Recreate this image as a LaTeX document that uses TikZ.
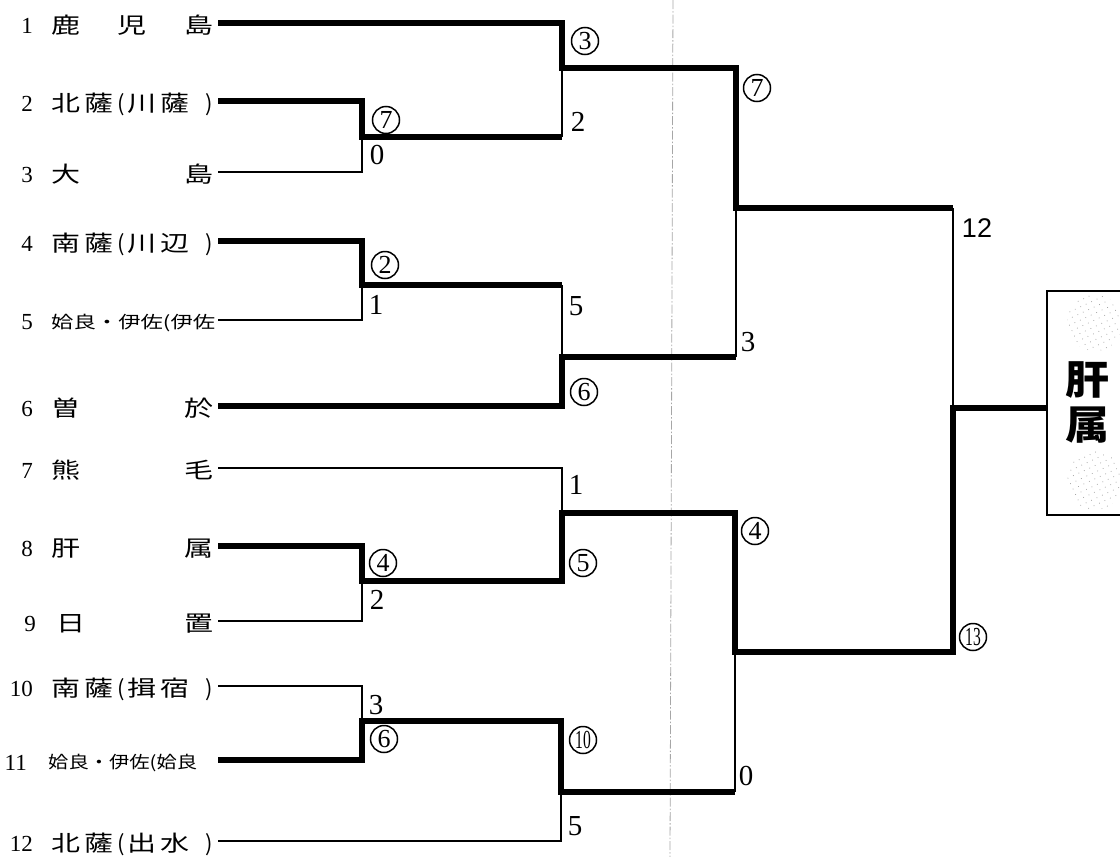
\documentclass[tikz,border=0pt]{standalone}
\usepackage{fontspec}
\usepackage{graphicx}
\setmainfont{Liberation Serif}
\newfontfamily\jp{Noto Sans CJK JP}
\newfontfamily\hv{Liberation Sans}
\newcommand\wc[1]{\scalebox{1.32}[1]{#1}}
\newcommand\pname[4]{\makebox[162pt]{\wc{#1}\hspace{4pt}\wc{#2}\hspace{4pt}(\hspace{3pt}\wc{#3}\hspace{4pt}\wc{#4}\hfill)}}
\usetikzlibrary{patterns.meta}
\tikzset{
  lose/.style={line width=2pt},
  win/.style={line width=6pt, line join=miter},
  teamnum/.style={inner sep=0pt, anchor=base east, font=\fontsize{23}{23}\selectfont},
  teamname/.style={inner sep=0pt, anchor=base west, font=\jp\fontsize{22}{22}\selectfont},
  smallname/.style={inner sep=0pt, anchor=base west, font=\jp\fontsize{17}{17}\selectfont},
  score/.style={inner sep=0pt, font=\fontsize{29}{29}\selectfont},
  circ/.style={circle, draw, line width=1.5pt, inner sep=0pt, minimum size=27pt, font=\fontsize{26}{26}\selectfont},
  guide/.style={draw=gray!70, line width=0.8pt, dash pattern=on 9pt off 2pt on 1.5pt off 2pt},
  boxtxt/.style={inner sep=0pt, font=\jp\bfseries\fontsize{40}{40}\selectfont},
}
\begin{document}
\begin{tikzpicture}[x=1pt,y=-1pt]
\useasboundingbox (0,0) rectangle (1120,857);

% guide line
\coordinate (gtop) at (673,0);
\coordinate (gbot) at (670,857);
\draw[guide] (gtop) -- (gbot);

% team labels
\node[teamnum] (n1) at (33,33) {1};
\node[teamname] (t1) at (51,33) {\makebox[162pt]{\wc{鹿}\hfill\wc{児}\hfill\wc{島}}};
\node[teamnum] (n2) at (33,111) {2};
\node[teamname] (t2) at (51,111) {\pname{北}{薩}{川}{薩}};
\node[teamnum] (n3) at (33,182) {3};
\node[teamname] (t3) at (51,182) {\makebox[162pt]{\wc{大}\hfill\wc{島}}};
\node[teamnum] (n4) at (33,251) {4};
\node[teamname] (t4) at (51,251) {\pname{南}{薩}{川}{辺}};
\node[teamnum] (n5) at (33,329) {5};
\node[smallname] (t5) at (51,328) {\resizebox{164pt}{\height}{姶良・伊佐(伊佐}};
\node[teamnum] (n6) at (33,416) {6};
\node[teamname] (t6) at (51,416) {\makebox[162pt]{\wc{曽}\hfill\wc{於}}};
\node[teamnum] (n7) at (33,478) {7};
\node[teamname] (t7) at (51,478) {\makebox[162pt]{\wc{熊}\hfill\wc{毛}}};
\node[teamnum] (n8) at (33,556) {8};
\node[teamname] (t8) at (51,556) {\makebox[162pt]{\wc{肝}\hfill\wc{属}}};
\node[teamnum] (n9) at (36,631) {9};
\node[teamname] (t9) at (51,631) {\makebox[162pt]{\hspace{5pt}\wc{日}\hfill\wc{置}}};
\node[teamnum] (n10) at (33,696) {10};
\node[teamname] (t10) at (51,696) {\pname{南}{薩}{揖}{宿}};
\node[teamnum] (n11) at (27,770) {11};
\node[smallname] (t11) at (48,768) {\resizebox{149pt}{\height}{姶良・伊佐(姶良}};
\node[teamnum] (n12) at (33,851) {12};
\node[teamname] (t12) at (51,851) {\pname{北}{薩}{出}{水}};

% line starts
\coordinate (l1) at (218,23);
\coordinate (l2) at (218,101);
\coordinate (l3) at (218,172);
\coordinate (l4) at (218,241);
\coordinate (l5) at (218,320);
\coordinate (l6) at (218,406);
\coordinate (l7) at (218,468);
\coordinate (l8) at (218,546);
\coordinate (l9) at (218,621);
\coordinate (l10) at (218,686);
\coordinate (l11) at (218,760);
\coordinate (l12) at (218,841);

% junctions
\coordinate (a) at (362,137);
\coordinate (b) at (362,285);
\coordinate (c) at (362,581);
\coordinate (d) at (362,721);
\coordinate (e) at (562,68);
\coordinate (f) at (562,357);
\coordinate (g) at (562,513);
\coordinate (h) at (561,792);
\coordinate (i) at (736,208);
\coordinate (j) at (735,652);
\coordinate (w) at (953,408);

% champion box
\node[draw, line width=2pt, minimum width=110pt, minimum height=224pt, anchor=north west, inner sep=0pt] (champ) at (1046,290) {};
\fill[pattern={Dots[distance=6pt,radius=0.55pt,angle=25]}, pattern color=gray!70] (1095,323) ellipse [x radius=28pt, y radius=28pt];
\fill[pattern={Dots[distance=6pt,radius=0.55pt,angle=25]}, pattern color=gray!70] (1095,480) ellipse [x radius=28pt, y radius=30pt];
\node[boxtxt] (k1) at (1087,380) {\scalebox{1.1}[1]{肝}};
\node[boxtxt] (k2) at (1087,425) {\scalebox{1.1}[1]{属}};

% thin (losing) lines
\draw[lose] (l3) -| (a);
\draw[lose] (l5) -| (b);
\draw[lose] (l7) -| (g);
\draw[lose] (l9) -| (c);
\draw[lose] (l10) -| (d);
\draw[lose] (l12) -| (h);
\draw[lose] (a -| e) -- (e);
\draw[lose] (b -| f) -- (f);
\draw[lose] (f -| i) -- (i);
\draw[lose] (h -| j) -- (j);
\draw[lose] (i -| w) -- (w);

% heavy (winning) lines
\draw[win] (l1) -| (e) -| (i) -- (i -| w);
\draw[win] (l2) -| (a) -- (a -| e);
\draw[win] (l4) -| (b) -- (b -| f);
\draw[win] (l6) -| (f) -- (f -| i);
\draw[win] (l8) -| (c) -| (g) -| (j) -| (w) -- (w -| champ.west);
\draw[win] (l11) -| (d) -| (h) -- (h -| j);

% scores
\node[circ] (sa1) at (386,120) {7};
\node[score] (sa2) at (377,155) {0};
\node[circ] (sb1) at (385,265) {2};
\node[score] (sb2) at (376,305) {1};
\node[circ] (sc1) at (383,563) {4};
\node[score] (sc2) at (377,600) {2};
\node[score] (sd1) at (376,705) {3};
\node[circ] (sd2) at (384,739) {6};
\node[circ] (se1) at (585,41) {3};
\node[score] (se2) at (578,122) {2};
\node[score] (sf1) at (576,306) {5};
\node[circ] (sf2) at (584,392) {6};
\node[score] (sg1) at (576,485) {1};
\node[circ] (sg2) at (583,563) {5};
\node[circ] (sh1) at (583,740) {\scalebox{0.6}[1]{10}};
\node[score] (sh2) at (575,826) {5};
\node[circ] (si1) at (757,88) {7};
\node[score] (si2) at (748,342) {3};
\node[circ] (sj1) at (755,531) {4};
\node[score] (sj2) at (746,776) {0};
\node[inner sep=0pt, font=\hv\fontsize{27}{27}\selectfont] (sw1) at (977,228) {12};
\node[circ] (sw2) at (973,637) {\scalebox{0.6}[1]{13}};
\end{tikzpicture}
\end{document}
